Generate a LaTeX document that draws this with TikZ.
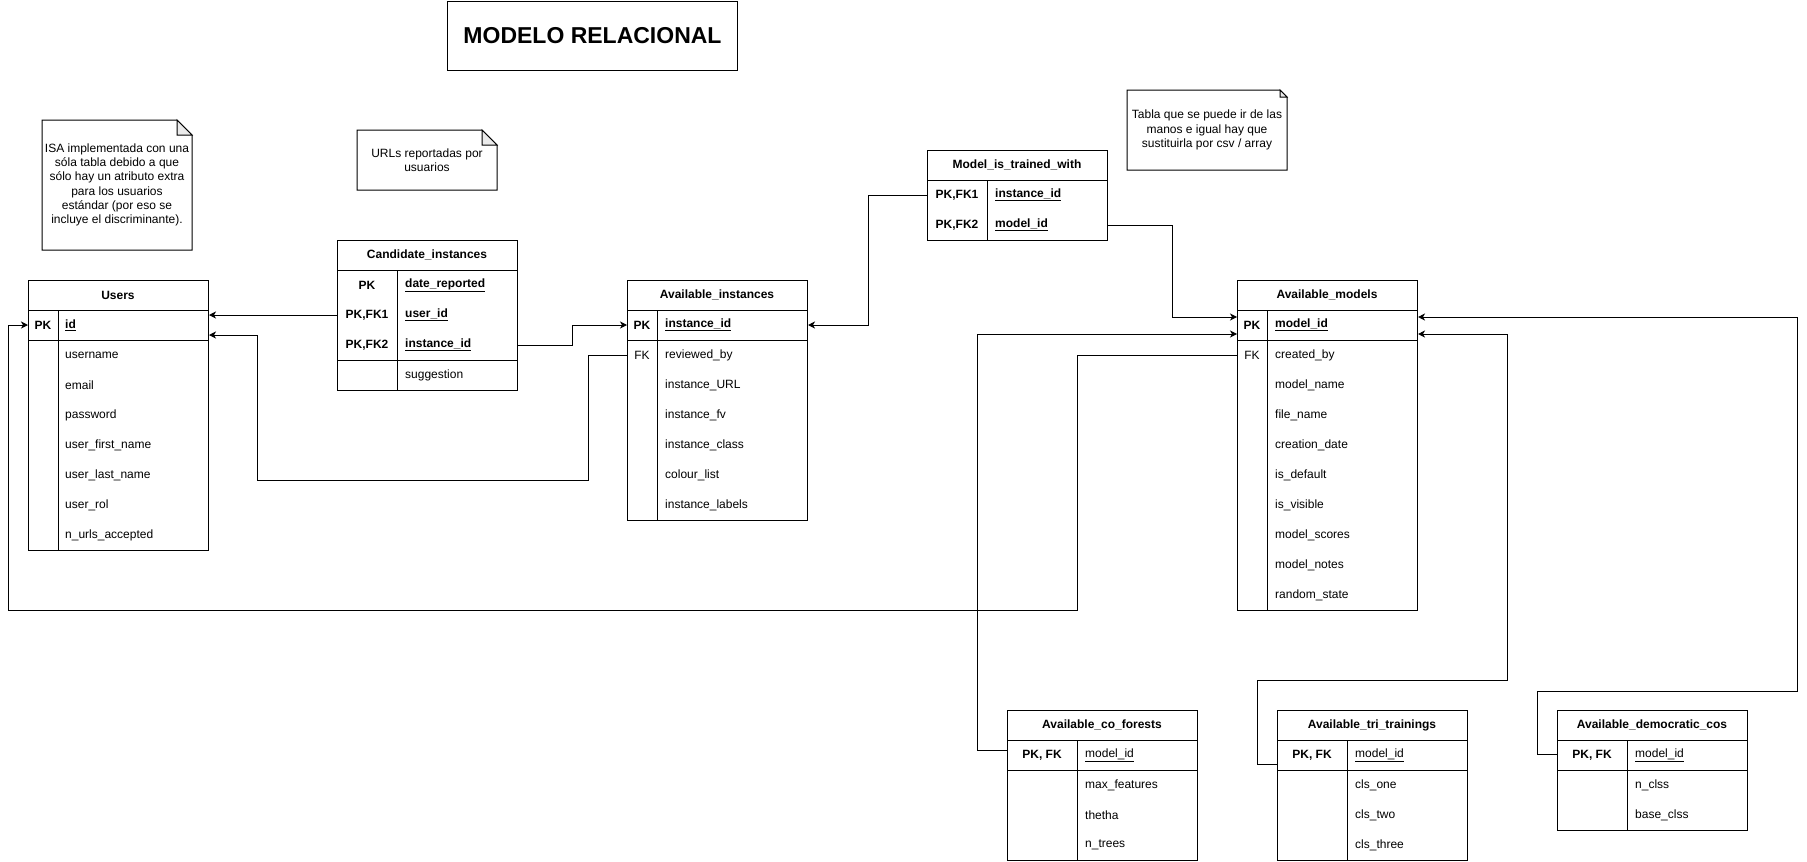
\documentclass[tikz,border=0pt]{standalone}
\usepackage{fontspec}
\setmainfont{Liberation Sans}
\usetikzlibrary{arrows.meta}
\newcommand\erfs{\fontsize{12}{14.3}\selectfont}
\begin{document}
\begin{tikzpicture}[x=1pt,y=-1pt,
  font=\erfs,
  tl/.style={draw=black,line width=1pt},
  tbl/.style={draw=black,fill=white,line width=1pt,minimum width=180pt,inner sep=0pt,anchor=north west},
  hdr/.style={font=\erfs\bfseries,inner sep=0pt},
  kc/.style={font=\erfs\bfseries,inner sep=0pt},
  kcr/.style={font=\erfs,inner sep=0pt},
  fd/.style={anchor=west,inner sep=0pt},
  fdb/.style={anchor=west,inner sep=0pt,font=\erfs\bfseries},
  notetxt/.style={align=center,inner sep=0pt,font=\fontsize{12}{14.3}\selectfont},
  notebox/.style={draw=black,fill=white,line width=1pt},
  fold/.style={draw=black,fill=black!8,line width=1pt},
  rel/.style={draw=black,line width=1pt,-{Stealth[length=7pt,width=7pt,inset=2pt]}}
]
\useasboundingbox[fill=white] (0,0) rectangle (1807,862);

% ---------- title ----------
\node[draw=black,line width=1pt,minimum width=290pt,minimum height=69pt,anchor=north west,inner sep=0pt,
  font=\fontsize{23}{28}\selectfont\bfseries] (title) at (447,1) {MODELO RELACIONAL};

% ---------- notes ----------
\draw[notebox] (42,120) -- (177,120) -- (192,135) -- (192,250) -- (42,250) -- cycle;
\draw[fold] (177,120) -- (177,135) -- (192,135) -- cycle;
\node[notetxt] (isa) at (117,185) {ISA implementada con una\\sóla tabla debido a que\\sólo hay un atributo extra\\para los usuarios\\estándar (por eso se\\incluye el discriminante).};

\draw[notebox] (357,130) -- (482,130) -- (497,145) -- (497,190) -- (357,190) -- cycle;
\draw[fold] (482,130) -- (482,145) -- (497,145) -- cycle;
\node[notetxt] (urls) at (427,160) {URLs reportadas por\\usuarios};

\draw[notebox] (1127,90) -- (1280,90) -- (1287,97) -- (1287,170) -- (1127,170) -- cycle;
\draw[fold] (1280,90) -- (1280,97) -- (1287,97) -- cycle;
\node[notetxt] (tabla) at (1207,130) {Tabla que se puede ir de las\\manos e igual hay que\\sustituirla por csv / array};

% ---------- Users ----------
\node[tbl,minimum height=270pt] (users) at (28,280) {};
\draw[tl] (28,310) -- (208,310) (28,340) -- (208,340) (58,310) -- (58,550);
\node[hdr] (users-t) at (118,295) {Users};
\node[kc] (users-k1) at (43,325) {PK};
\node[fdb] (users-id) at (65,325) {\underline{id}};
\foreach \t [count=\i] in {username,email,password,user\_first\_name,user\_last\_name,user\_rol,n\_urls\_accepted}
  \node[fd] (users-f\i) at (65,325+30*\i) {\t};

% ---------- Candidate_instances ----------
\node[tbl,minimum height=150pt] (cand) at (337,240) {};
\draw[tl] (337,270) -- (517,270) (337,360) -- (517,360) (397,270) -- (397,390);
\node[hdr] (cand-t) at (427,255) {Candidate\_instances};
\node[kc] (cand-k1) at (367,285) {PK};
\node[kc] (cand-k2) at (367,315) {PK,FK1};
\node[kc] (cand-k3) at (367,345) {PK,FK2};
\node[fdb] (cand-f1) at (405,285) {\underline{date\_reported}};
\node[fdb] (cand-f2) at (405,315) {\underline{user\_id}};
\node[fdb] (cand-f3) at (405,345) {\underline{instance\_id}};
\node[fd] (cand-f4) at (405,375) {suggestion};

% ---------- Available_instances ----------
\node[tbl,minimum height=240pt] (ai) at (627,280) {};
\draw[tl] (627,310) -- (807,310) (627,340) -- (807,340) (657,310) -- (657,520);
\node[hdr] (ai-t) at (717,295) {Available\_instances};
\node[kc] (ai-k1) at (642,325) {PK};
\node[kcr] (ai-k2) at (642,355) {FK};
\node[fdb] (ai-id) at (665,325) {\underline{instance\_id}};
\foreach \t [count=\i] in {reviewed\_by,instance\_URL,instance\_fv,instance\_class,colour\_list,instance\_labels}
  \node[fd] (ai-f\i) at (665,325+30*\i) {\t};

% ---------- Model_is_trained_with ----------
\node[tbl,minimum height=90pt] (mit) at (927,150) {};
\draw[tl] (927,180) -- (1107,180) (987,180) -- (987,240);
\node[hdr] (mit-t) at (1017,165) {Model\_is\_trained\_with};
\node[kc] (mit-k1) at (957,195) {PK,FK1};
\node[kc] (mit-k2) at (957,225) {PK,FK2};
\node[fdb] (mit-f1) at (995,195) {\underline{instance\_id}};
\node[fdb] (mit-f2) at (995,225) {\underline{model\_id}};

% ---------- Available_models ----------
\node[tbl,minimum height=330pt] (am) at (1237,280) {};
\draw[tl] (1237,310) -- (1417,310) (1237,340) -- (1417,340) (1267,310) -- (1267,610);
\node[hdr] (am-t) at (1327,295) {Available\_models};
\node[kc] (am-k1) at (1252,325) {PK};
\node[kcr] (am-k2) at (1252,355) {FK};
\node[fdb] (am-id) at (1275,325) {\underline{model\_id}};
\foreach \t [count=\i] in {created\_by,model\_name,file\_name,creation\_date,is\_default,is\_visible,model\_scores,model\_notes,random\_state}
  \node[fd] (am-f\i) at (1275,325+30*\i) {\t};

% ---------- Available_co_forests ----------
\node[tbl,minimum width=190pt,minimum height=150pt] (cf) at (1007,710) {};
\draw[tl] (1007,740) -- (1197,740) (1007,770) -- (1197,770) (1077,740) -- (1077,860);
\node[hdr] (cf-t) at (1102,725) {Available\_co\_forests};
\node[kc] (cf-k1) at (1042,755) {PK, FK};
\node[fd] (cf-id) at (1085,755) {\underline{model\_id}};
\foreach \t [count=\i] in {max\_features,thetha,n\_trees}
  \node[fd] (cf-f\i) at (1085,755+30*\i) {\t};

% ---------- Available_tri_trainings ----------
\node[tbl,minimum width=190pt,minimum height=150pt] (tt) at (1277,710) {};
\draw[tl] (1277,740) -- (1467,740) (1277,770) -- (1467,770) (1347,740) -- (1347,860);
\node[hdr] (tt-t) at (1372,725) {Available\_tri\_trainings};
\node[kc] (tt-k1) at (1312,755) {PK, FK};
\node[fd] (tt-id) at (1355,755) {\underline{model\_id}};
\foreach \t [count=\i] in {cls\_one,cls\_two,cls\_three}
  \node[fd] (tt-f\i) at (1355,755+30*\i) {\t};

% ---------- Available_democratic_cos ----------
\node[tbl,minimum width=190pt,minimum height=120pt] (dc) at (1557,710) {};
\draw[tl] (1557,740) -- (1747,740) (1557,770) -- (1747,770) (1627,740) -- (1627,830);
\node[hdr] (dc-t) at (1652,725) {Available\_democratic\_cos};
\node[kc] (dc-k1) at (1592,755) {PK, FK};
\node[fd] (dc-id) at (1635,755) {\underline{model\_id}};
\foreach \t [count=\i] in {n\_clss,base\_clss}
  \node[fd] (dc-f\i) at (1635,755+30*\i) {\t};

% ---------- connectors ----------
\draw[rel] (cand.west |- cand-k2) -- (users.east |- cand-k2);
\draw[rel] (ai.west |- ai-k2) -- (588,355) -- (588,480) -- (257,480) -- (257,335) -- (users.east |- 0,335);
\draw[rel] (cand.east |- cand-k3) -- (572,345) -- (572,325) -- (ai.west |- ai-k1);
\draw[rel] (mit.west |- mit-k1) -- (868,195) -- (868,325) -- (ai.east |- ai-k1);
\draw[rel] (mit.east |- mit-k2) -- (1172,225) -- (1172,317) -- (am.west |- 0,317);
\draw[rel] (am.west |- am-k2) -- (1077,355) -- (1077,610) -- (8,610) -- (8,325) -- (users.west |- users-k1);
\draw[rel] (cf.west |- 0,750) -- (977,750) -- (977,334) -- (am.west |- 0,334);
\draw[rel] (tt.west |- 0,764) -- (1257,764) -- (1257,680) -- (1507,680) -- (1507,334) -- (am.east |- 0,334);
\draw[rel] (dc.west |- 0,754) -- (1537,754) -- (1537,691) -- (1797,691) -- (1797,317) -- (am.east |- 0,317);
\end{tikzpicture}
\end{document}
